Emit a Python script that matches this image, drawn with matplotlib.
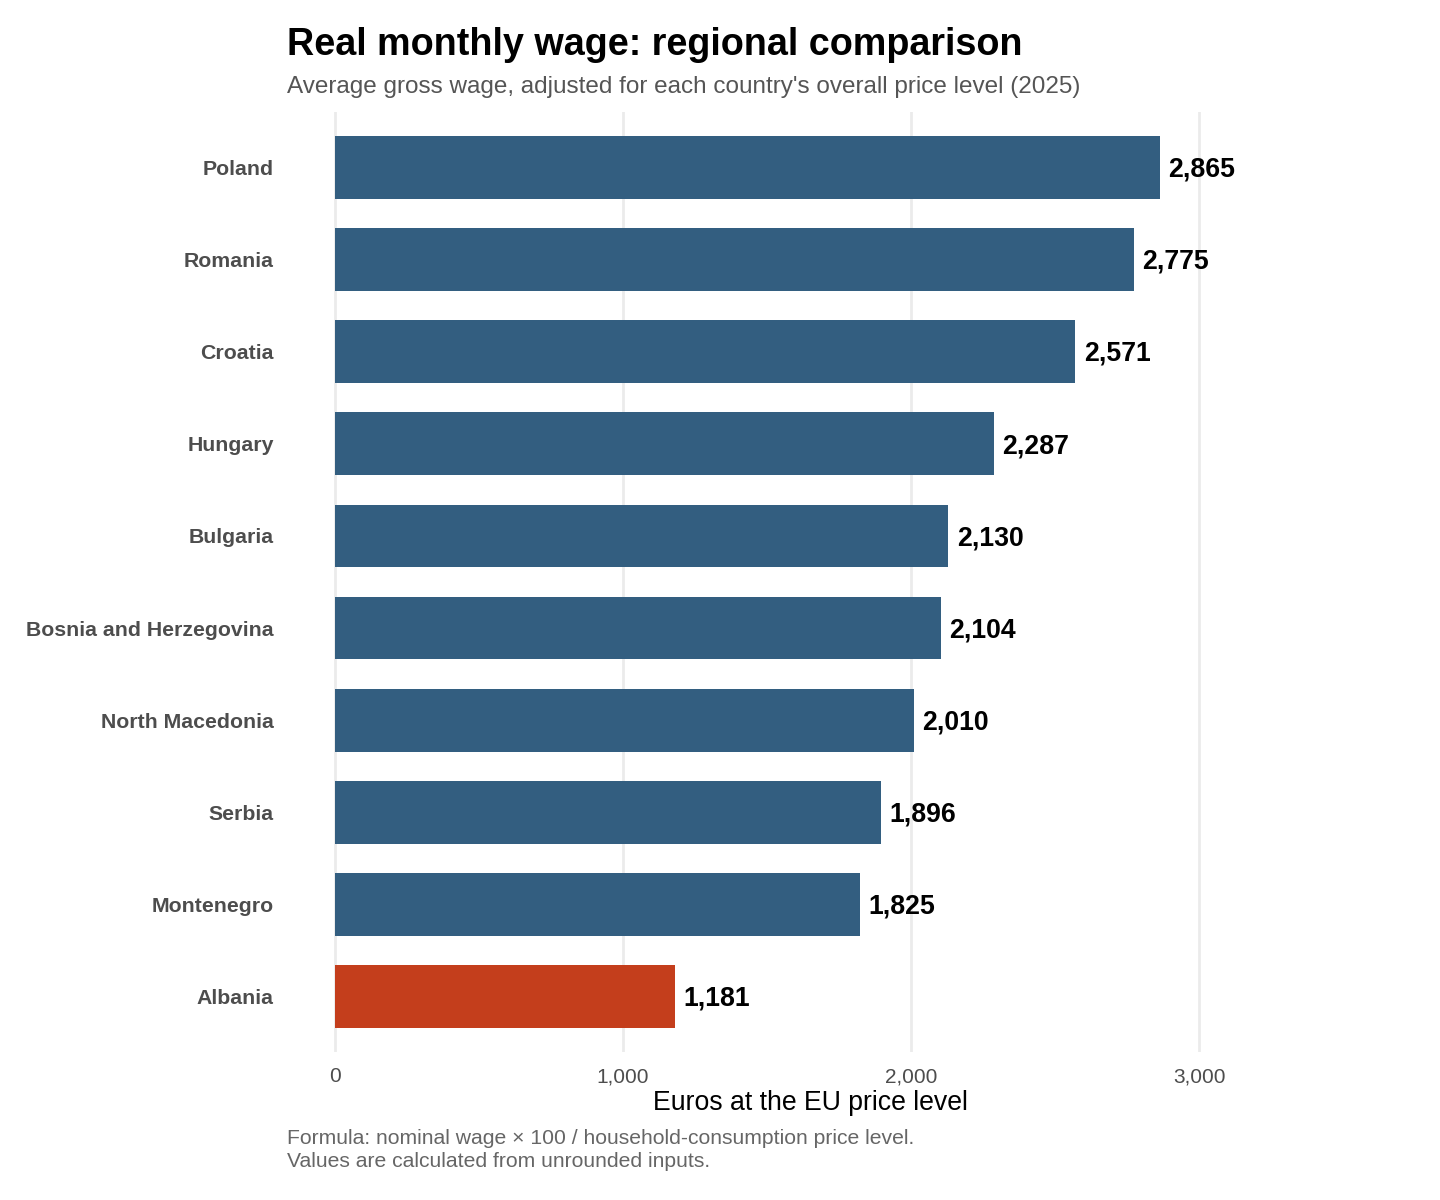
import matplotlib.pyplot as plt
import numpy as np
from matplotlib.ticker import FuncFormatter

plt.rcParams['font.family'] = ['Liberation Sans', 'DejaVu Sans']

# data
paises = ['Poland', 'Romania', 'Croatia', 'Hungary', 'Bulgaria',
          'Bosnia and Herzegovina', 'North Macedonia', 'Serbia',
          'Montenegro', 'Albania']
salarios = [2865, 2775, 2571, 2287, 2130, 2104, 2010, 1896, 1825, 1181]
destaque = 'Albania'

azul = '#335E80'
vermelho = '#C43E1C'

fig = plt.figure(figsize=(7.2, 6), dpi=200)
ax = fig.add_axes([0.1993, 0.1233, 0.7264, 0.7833])

pos = np.arange(len(paises))[::-1] + 1
cores = [vermelho if p == destaque else azul for p in paises]
ax.barh(pos, salarios, height=0.68, color=cores, zorder=2)

for y, v in zip(pos, salarios):
    ax.annotate(f'{v:,}', (v, y), xytext=(3, -0.8), textcoords='offset points',
                ha='left', va='center', fontsize=9.6, fontweight='bold', color='black')

ax.set_xlim(-165, 3465)
ax.set_ylim(0.4, len(paises) + 0.6)
ax.set_xticks([0, 1000, 2000, 3000])
ax.xaxis.set_major_formatter(FuncFormatter(lambda x, p: f'{int(x):,}'))
ax.set_yticks(pos)
ax.set_yticklabels(paises, fontsize=7.65, fontweight='bold', color='#4D4D4D',
                   va='center_baseline')
ax.tick_params(axis='y', length=0, pad=4.7)
ax.tick_params(axis='x', length=0, pad=5.4, labelsize=7.5, labelcolor='#4D4D4D')
ax.grid(axis='x', color='#EBEBEB', linewidth=1.0, zorder=0)
for s in ax.spines.values():
    s.set_visible(False)

ax.set_xlabel('Euros at the EU price level', fontsize=9.6, color='black', labelpad=1.5)

# textos
fig.text(0.1993, 0.954, 'Real monthly wage: regional comparison', fontsize=13.6,
         fontweight='bold', va='baseline', ha='left')
fig.text(0.1993, 0.9225, "Average gross wage, adjusted for each country's overall price level (2025)",
         fontsize=8.74, color='#555555', va='baseline', ha='left')
fig.text(0.1993, 1 - 1144 / 1200, 'Formula: nominal wage \u00d7 100 / household-consumption price level.',
         fontsize=7.6, color='#666666', va='baseline', ha='left')
fig.text(0.1993, 1 - 1167 / 1200, 'Values are calculated from unrounded inputs.',
         fontsize=7.6, color='#666666', va='baseline', ha='left')

plt.savefig('out.png', dpi=200, facecolor='white')
